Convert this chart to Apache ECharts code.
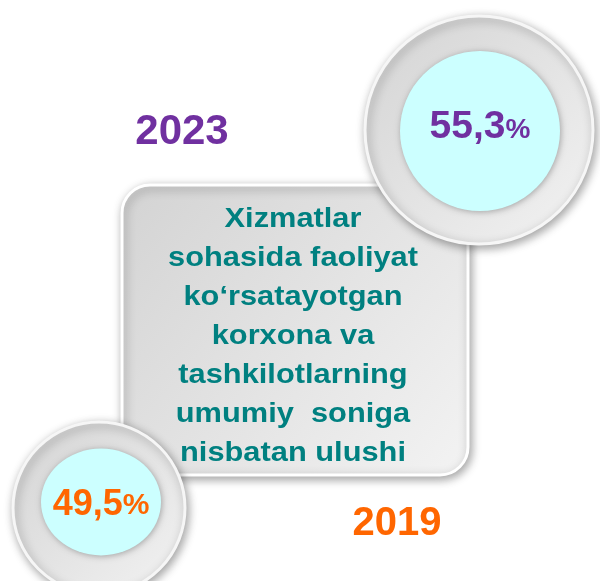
<!DOCTYPE html>
<html>
<head>
<meta charset="utf-8">
<script src="https://cdn.jsdelivr.net/npm/echarts@6/dist/echarts.min.js"></script>
<style>
  html, body { margin: 0; padding: 0; background: #fff; }
  #chart { width: 600px; height: 581px; }
</style>
</head>
<body>
<div id="chart"></div>
<script>
const years = ['2023', '2019'];
const shares = ['55,3', '49,5'];
const yearColors = ['#7030a0', '#ff6600'];
const titleLines = [
  'Xizmatlar',
  'sohasida faoliyat',
  'ko‘rsatayotgan',
  'korxona va',
  'tashkilotlarning',
  'umumiy  soniga',
  'nisbatan ulushi'
];

const FONT = '"Liberation Sans", Arial, sans-serif';
const chart = echarts.init(document.getElementById('chart'));

const grayFill = new echarts.graphic.LinearGradient(0, 0, 1, 1, [
  { offset: 0, color: '#d3d3d3' },
  { offset: 1, color: '#f3f3f3' }
]);

// outer gray ring + cyan disc + percentage
function badge(cx, cy, r, inner, value, color, numSize, pctSize) {
  return [
    {
      type: 'circle', z: 10,
      shape: { cx: cx, cy: cy, r: r },
      style: {
        fill: grayFill, stroke: '#f6f6f6', lineWidth: 3,
        shadowBlur: 10, shadowOffsetX: 2, shadowOffsetY: 3, shadowColor: 'rgba(0,0,0,0.35)'
      }
    },
    {
      type: 'circle', z: 11,
      x: inner.x, y: inner.y, scaleY: inner.sy,
      shape: { cx: 0, cy: 0, r: inner.r },
      style: {
        fill: '#ccffff',
        shadowBlur: 6, shadowOffsetX: 1, shadowOffsetY: 1, shadowColor: 'rgba(0,0,0,0.3)'
      }
    },
    {
      type: 'text', z: 12,
      x: inner.x, y: inner.ty,
      style: {
        text: '{n|' + value + '}{p|%}',
        align: 'center', verticalAlign: 'middle',
        rich: {
          n: { fontFamily: FONT, fontWeight: 'bold', fontSize: numSize, fill: color },
          p: { fontFamily: FONT, fontWeight: 'bold', fontSize: pctSize, fill: color, padding: [numSize - pctSize - 4, 0, 0, 0] }
        }
      }
    }
  ];
}

const option = {
  backgroundColor: '#ffffff',
  graphic: [
    {
      type: 'rect', z: 5,
      shape: { x: 122, y: 185, width: 346, height: 290, r: 28 },
      style: {
        fill: grayFill, stroke: '#ffffff', lineWidth: 3,
        shadowBlur: 10, shadowOffsetX: 2, shadowOffsetY: 3, shadowColor: 'rgba(0,0,0,0.35)'
      }
    },
    {
      type: 'text', z: 20,
      x: 293, y: 336, scaleX: 1.1,
      style: {
        text: titleLines.join('\n'),
        align: 'center', verticalAlign: 'middle',
        fontFamily: FONT, fontWeight: 'bold', fontSize: 28, lineHeight: 39,
        fill: '#008080'
      }
    },
    ...badge(479, 130, 114, { x: 480, y: 131, ty: 127, r: 80, sy: 1 }, shares[0], yearColors[0], 39, 28),
    ...badge(99, 508, 86, { x: 101, y: 502, ty: 505, r: 60, sy: 0.89 }, shares[1], yearColors[1], 36, 30),
    {
      type: 'text', z: 20,
      x: 182, y: 132,
      style: {
        text: years[0], align: 'center', verticalAlign: 'middle',
        fontFamily: FONT, fontWeight: 'bold', fontSize: 42, fill: yearColors[0]
      }
    },
    {
      type: 'text', z: 20,
      x: 397, y: 524,
      style: {
        text: years[1], align: 'center', verticalAlign: 'middle',
        fontFamily: FONT, fontWeight: 'bold', fontSize: 40, fill: yearColors[1]
      }
    }
  ]
};

chart.setOption(option);
</script>
</body>
</html>
